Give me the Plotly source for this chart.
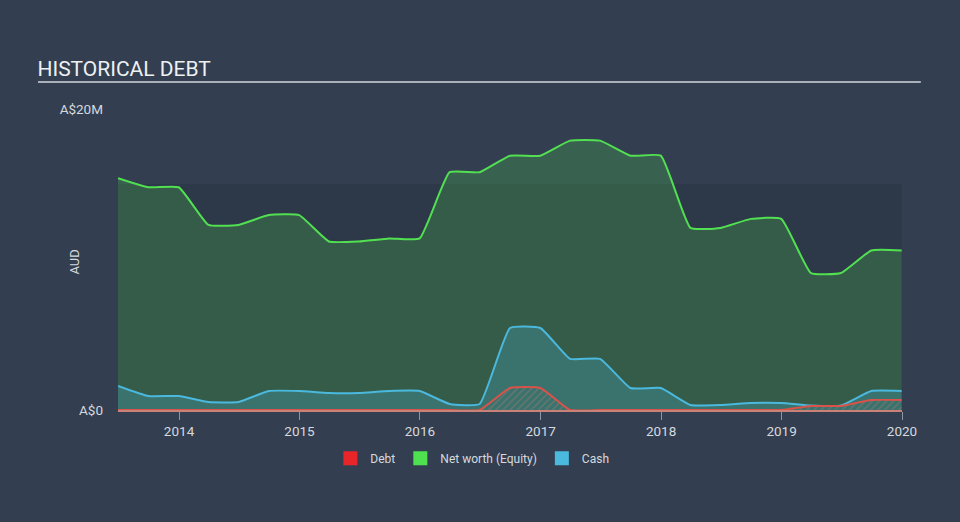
import plotly.graph_objects as go

dates = ["2013-06-30", "2013-09-30", "2013-12-31", "2014-03-31", "2014-06-30", "2014-09-30",
         "2014-12-31", "2015-03-31", "2015-06-30", "2015-09-30", "2015-12-31", "2016-03-31",
         "2016-06-30", "2016-09-30", "2016-12-31", "2017-03-31", "2017-06-30", "2017-09-30",
         "2017-12-31", "2018-03-31", "2018-06-30", "2018-09-30", "2018-12-31", "2019-03-31",
         "2019-06-30", "2019-09-30", "2019-12-31"]

net_worth = [15.4, 14.8, 14.8, 12.3, 12.3, 12.95, 12.95, 11.2, 11.2, 11.4, 11.4, 15.8,
             15.8, 16.9, 16.9, 17.9, 17.9, 16.9, 16.9, 12.1, 12.1, 12.7, 12.7, 9.1,
             9.1, 10.6, 10.6]

cash = [1.6, 0.93, 0.93, 0.53, 0.53, 1.26, 1.26, 1.13, 1.13, 1.26, 1.26, 0.4,
        0.4, 5.45, 5.45, 3.4, 3.4, 1.46, 1.46, 0.33, 0.33, 0.47, 0.47, 0.3,
        0.3, 1.26, 1.26]

debt = [0, 0, 0, 0, 0, 0, 0, 0, 0, 0, 0, 0,
        0, 1.46, 1.46, 0, 0, 0, 0, 0, 0, 0, 0, 0.27,
        0.27, 0.66, 0.66]

y_ticks = [0, 20]
y_tick_text = ["A$0", "A$20M"]
x_ticks = ["2014-01-01", "2015-01-01", "2016-01-01", "2017-01-01", "2018-01-01", "2019-01-01", "2020-01-01"]
x_tick_text = ["2014", "2015", "2016", "2017", "2018", "2019", "2020"]

BG = "#333f50"
GREEN = "#52e052"
BLUE = "#4bb8de"
RED = "#d9534a"
FONT = "Roboto"
SM = 0.4

fig = go.Figure()

fig.add_trace(go.Scatter(x=dates, y=net_worth, mode="lines", fill="tozeroy", cliponaxis=False,
                         line=dict(color=GREEN, width=2, shape="spline", smoothing=SM),
                         fillcolor="rgba(76,200,76,0.25)", showlegend=False, hoverinfo="skip"))
fig.add_trace(go.Scatter(x=dates, y=cash, mode="lines", fill="tozeroy", cliponaxis=False,
                         line=dict(color=BLUE, width=2, shape="spline", smoothing=SM),
                         fillcolor="rgba(75,184,222,0.25)", showlegend=False, hoverinfo="skip"))
fig.add_trace(go.Scatter(x=dates, y=debt, mode="lines", fill="tozeroy", cliponaxis=False,
                         line=dict(color=RED, width=2, shape="spline", smoothing=SM),
                         fillcolor="rgba(0,0,0,0)",
                         fillpattern=dict(shape="/", fgcolor="rgba(210,120,110,0.7)",
                                          bgcolor="rgba(0,0,0,0)", size=5, solidity=0.25),
                         showlegend=False, hoverinfo="skip"))

for name, col in [("Debt", "#e8262a"), ("Net worth (Equity)", "#4fe04f"), ("Cash", "#4bb8de")]:
    fig.add_trace(go.Scatter(x=[None], y=[None], mode="markers", name=name,
                             marker=dict(symbol="square", size=14, color=col)))

fig.add_shape(type="rect", xref="paper", yref="y", x0=0, x1=1, y0=0, y1=15,
              fillcolor="#2d3949", line=dict(width=0), layer="below")
fig.add_shape(type="line", xref="paper", yref="paper", x0=-0.102, x1=1.024, y0=1.0897, y1=1.0897,
              line=dict(color="#aab0b8", width=2))

fig.add_annotation(text="AUD", xref="paper", yref="paper", x=-0.0676, y=0.4917, textangle=-90,
                   showarrow=False, font=dict(family=FONT, size=13, color="#d6d9de"))

fig.update_layout(
    width=960, height=522,
    paper_bgcolor=BG, plot_bgcolor="rgba(0,0,0,0)",
    margin=dict(l=118, r=58, t=109, b=112),
    font=dict(family=FONT, size=12, color="#d6d9de"),
    title=dict(text="HISTORICAL DEBT", xref="container", yref="container", x=0.039, y=0.868,
               xanchor="left", yanchor="middle", font=dict(family=FONT, size=21, color="#eef0f2")),
    xaxis=dict(type="date", range=["2013-06-30", "2020-01-01"], tickvals=x_ticks, ticktext=x_tick_text,
               showgrid=False, zeroline=False, showline=True, linecolor="#c98178", linewidth=2,
               ticks="outside", ticklen=8,
               tickcolor="#8d97a5", tickwidth=1, tickfont=dict(size=13.5, color="#d6d9de")),
    yaxis=dict(range=[0, 20], tickvals=y_ticks, ticktext=y_tick_text, showgrid=False, zeroline=False,
               showline=False, ticks="", ticklabelstandoff=14, tickfont=dict(size=13.5, color="#d6d9de")),
    legend=dict(orientation="h", x=0.452, y=-0.16, xanchor="center", yanchor="middle",
                font=dict(size=12, color="#d6d9de"), bgcolor="rgba(0,0,0,0)", itemwidth=30,
                tracegroupgap=0),
)

fig.write_html("out.html")
